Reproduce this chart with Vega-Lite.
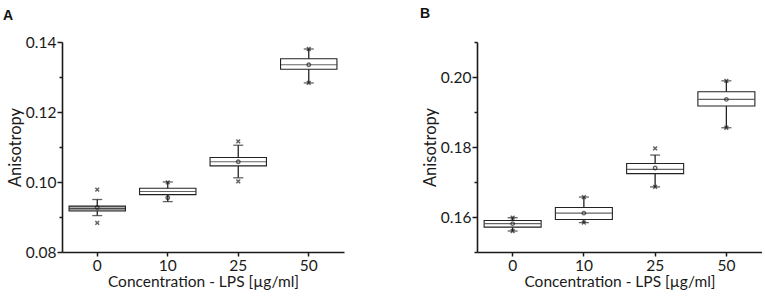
{
  "$schema": "https://vega.github.io/schema/vega-lite/v6.json",
  "padding": {"left": 3, "top": 7, "right": 0, "bottom": 0},
  "bounds": "flush",
  "spacing": 133,
  "datasets": {
    "statsA": [
      {"conc": "0", "lo": 0.0904, "q1": 0.0917, "med": 0.0924, "q3": 0.0931, "hi": 0.0950, "mean": 0.0927},
      {"conc": "10", "lo": 0.0944, "q1": 0.0964, "med": 0.0973, "q3": 0.0982, "hi": 0.1000, "mean": 0.0955},
      {"conc": "25", "lo": 0.1012, "q1": 0.1046, "med": 0.1058, "q3": 0.1070, "hi": 0.1105, "mean": 0.1058},
      {"conc": "50", "lo": 0.1283, "q1": 0.1322, "med": 0.1335, "q3": 0.1352, "hi": 0.1380, "mean": 0.1335}
    ],
    "outA": [
      {"conc": "0", "value": 0.0978},
      {"conc": "0", "value": 0.0883},
      {"conc": "10", "value": 0.0999},
      {"conc": "25", "value": 0.1116},
      {"conc": "25", "value": 0.1002},
      {"conc": "50", "value": 0.1380},
      {"conc": "50", "value": 0.1283}
    ],
    "statsB": [
      {"conc": "0", "lo": 0.1560, "q1": 0.1571, "med": 0.1581, "q3": 0.1590, "hi": 0.1598, "mean": 0.1581},
      {"conc": "10", "lo": 0.1584, "q1": 0.1593, "med": 0.1611, "q3": 0.1627, "hi": 0.1657, "mean": 0.1611},
      {"conc": "25", "lo": 0.1686, "q1": 0.1724, "med": 0.1736, "q3": 0.1753, "hi": 0.1777, "mean": 0.1740},
      {"conc": "50", "lo": 0.1855, "q1": 0.1917, "med": 0.1936, "q3": 0.1958, "hi": 0.1989, "mean": 0.1936}
    ],
    "outB": [
      {"conc": "0", "value": 0.1598},
      {"conc": "0", "value": 0.1560},
      {"conc": "10", "value": 0.1657},
      {"conc": "10", "value": 0.1584},
      {"conc": "25", "value": 0.1796},
      {"conc": "25", "value": 0.1686},
      {"conc": "50", "value": 0.1989},
      {"conc": "50", "value": 0.1855}
    ]
  },
  "config": {
    "view": {"stroke": null},
    "font": "Lato",
    "title": {"fontSize": 14, "font": "Liberation Sans", "fontWeight": "bold", "anchor": "start", "frame": "group", "color": "#111"},
    "axis": {
      "grid": false,
      "domainColor": "#1a1a1a",
      "domainWidth": 1.6,
      "tickColor": "#1a1a1a",
      "tickWidth": 1.5,
      "labelColor": "#1a1a1a",
      "titleColor": "#1a1a1a",
      "labelFont": "Lato",
      "titleFont": "Lato",
      "labelFontSize": 15.5,
      "titleFontSize": 15.5,
      "titleFontWeight": "normal"
    },
    "axisX": {"labelAngle": 0, "tickSize": 4, "labelPadding": 2, "titlePadding": 1},
    "axisY": {"labelPadding": 1, "titlePadding": 2, "titleFontSize": 16.5, "format": ".2f", "tickCount": 20,
      "tickSize": {"condition": {"test": "round(datum.value*100) % 2 === 0", "value": 5}, "value": 3}
    }
  },
  "hconcat": [
    {
      "width": 282,
      "height": 210,
      "title": {"text": "A", "dx": -59, "offset": 12},
      "encoding": {
        "x": {"field": "conc", "type": "ordinal", "sort": ["0", "10", "25", "50"], "scale": {"paddingInner": 0, "paddingOuter": 0}, "title": "Concentration - LPS [µg/ml]"}
      },
      "layer": [
        {
          "data": {"name": "statsA"},
          "mark": {"type": "rule", "color": "#222", "strokeWidth": 1.3},
          "encoding": {
            "y": {"field": "lo", "type": "quantitative", "scale": {"domain": [0.08, 0.14], "nice": false, "zero": false}, "axis": {"values": [0.08, 0.09, 0.10, 0.11, 0.12, 0.13, 0.14], "tickCount": 20, "labelOverlap": false, "labelExpr": "indexof(['0.08','0.10','0.12','0.14'], datum.label) >= 0 ? datum.label : ''"}, "title": "Anisotropy"},
            "y2": {"field": "hi"}
          }
        },
        {
          "data": {"name": "statsA"},
          "mark": {"type": "bar", "width": {"band": 0.8}, "stroke": "#222", "strokeWidth": 1.1},
          "encoding": {
            "y": {"field": "q1", "type": "quantitative"},
            "y2": {"field": "q3"},
            "fill": {"condition": {"test": "datum.conc === '0'", "value": "#b0b0b0"}, "value": "#ffffff"}
          }
        },
        {
          "data": {"name": "statsA"},
          "mark": {"type": "tick", "size": 56, "thickness": 1.1, "color": "#222"},
          "encoding": {"y": {"field": "med", "type": "quantitative"}}
        },
        {
          "data": {"name": "statsA"},
          "mark": {"type": "tick", "size": 10, "thickness": 1.3, "color": "#222"},
          "encoding": {"y": {"field": "hi", "type": "quantitative"}}
        },
        {
          "data": {"name": "statsA"},
          "mark": {"type": "tick", "size": 10, "thickness": 1.3, "color": "#222"},
          "encoding": {"y": {"field": "lo", "type": "quantitative"}}
        },
        {
          "data": {"name": "statsA"},
          "mark": {"type": "point", "shape": "circle", "size": 12, "filled": false, "stroke": "#222", "strokeWidth": 1.4},
          "encoding": {"y": {"field": "mean", "type": "quantitative"}}
        },
        {
          "data": {"name": "outA"},
          "mark": {"type": "point", "shape": "M-1,-1L1,1M-1,1L1,-1", "size": 14, "filled": false, "stroke": "#222", "strokeWidth": 1.5},
          "encoding": {"y": {"field": "value", "type": "quantitative"}}
        }
      ]
    },
    {
      "width": 285,
      "height": 210,
      "title": {"text": "B", "dx": -57, "offset": 14},
      "encoding": {
        "x": {"field": "conc", "type": "ordinal", "sort": ["0", "10", "25", "50"], "scale": {"paddingInner": 0, "paddingOuter": 0}, "title": "Concentration - LPS [µg/ml]"}
      },
      "layer": [
        {
          "data": {"name": "statsB"},
          "mark": {"type": "rule", "color": "#222", "strokeWidth": 1.3},
          "encoding": {
            "y": {"field": "lo", "type": "quantitative", "scale": {"domain": [0.15, 0.21], "nice": false, "zero": false}, "axis": {"values": [0.15, 0.16, 0.17, 0.18, 0.19, 0.20, 0.21], "tickCount": 20, "labelOverlap": false, "labelExpr": "indexof(['0.16','0.18','0.20'], datum.label) >= 0 ? datum.label : ''"}, "title": "Anisotropy"},
            "y2": {"field": "hi"}
          }
        },
        {
          "data": {"name": "statsB"},
          "mark": {"type": "bar", "width": {"band": 0.8}, "stroke": "#222", "strokeWidth": 1.1, "fill": "#ffffff"},
          "encoding": {
            "y": {"field": "q1", "type": "quantitative"},
            "y2": {"field": "q3"}
          }
        },
        {
          "data": {"name": "statsB"},
          "mark": {"type": "tick", "size": 56, "thickness": 1.1, "color": "#222"},
          "encoding": {"y": {"field": "med", "type": "quantitative"}}
        },
        {
          "data": {"name": "statsB"},
          "mark": {"type": "tick", "size": 10, "thickness": 1.3, "color": "#222"},
          "encoding": {"y": {"field": "hi", "type": "quantitative"}}
        },
        {
          "data": {"name": "statsB"},
          "mark": {"type": "tick", "size": 10, "thickness": 1.3, "color": "#222"},
          "encoding": {"y": {"field": "lo", "type": "quantitative"}}
        },
        {
          "data": {"name": "statsB"},
          "mark": {"type": "point", "shape": "circle", "size": 12, "filled": false, "stroke": "#222", "strokeWidth": 1.4},
          "encoding": {"y": {"field": "mean", "type": "quantitative"}}
        },
        {
          "data": {"name": "outB"},
          "mark": {"type": "point", "shape": "M-1,-1L1,1M-1,1L1,-1", "size": 14, "filled": false, "stroke": "#222", "strokeWidth": 1.5},
          "encoding": {"y": {"field": "value", "type": "quantitative"}}
        }
      ]
    }
  ]
}
